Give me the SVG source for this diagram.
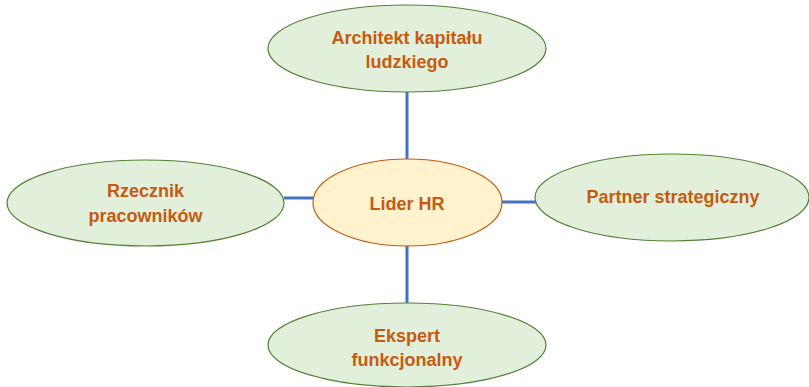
<svg xmlns="http://www.w3.org/2000/svg" width="809" height="387" viewBox="0 0 809 387">
  <style>
    .role { fill: #E2EFDA; stroke: #548235; stroke-width: 1.2; }
    .core { fill: #FFF2CC; stroke: #C55A11; stroke-width: 1.2; }
    .label { font-family: "Liberation Sans", Arial, sans-serif; font-weight: bold; font-size: 18px; fill: #C55A11; text-anchor: middle; }
    .link { stroke: #4472C4; stroke-width: 3; fill: none; }
  </style>
  <rect width="809" height="387" fill="#FFFFFF"/>

  <g id="connectors">
    <line class="link" x1="407" y1="92" x2="407" y2="159"/>
    <line class="link" x1="407" y1="246" x2="407" y2="303"/>
    <line class="link" x1="284" y1="198" x2="313" y2="198"/>
    <line class="link" x1="502" y1="202" x2="536" y2="202"/>
  </g>

  <g id="architekt">
    <ellipse class="role" cx="407" cy="48.5" rx="139" ry="43.5"/>
    <text class="label" x="407" y="44">Architekt kapitału</text>
    <text class="label" x="407" y="67.5">ludzkiego</text>
  </g>

  <g id="lider">
    <ellipse class="core" cx="407.5" cy="202.5" rx="94.5" ry="43.5"/>
    <text class="label" x="407" y="210">Lider HR</text>
  </g>

  <g id="rzecznik">
    <ellipse class="role" cx="145.5" cy="203" rx="138.5" ry="43"/>
    <text class="label" x="145.5" y="197">Rzecznik</text>
    <text class="label" x="145.5" y="221.5">pracowników</text>
  </g>

  <g id="partner">
    <ellipse class="role" cx="672" cy="197.5" rx="137" ry="43.5"/>
    <text class="label" x="673" y="203">Partner strategiczny</text>
  </g>

  <g id="ekspert">
    <ellipse class="role" cx="407" cy="345" rx="139" ry="42"/>
    <text class="label" x="407" y="341.5">Ekspert</text>
    <text class="label" x="407" y="366">funkcjonalny</text>
  </g>
</svg>
